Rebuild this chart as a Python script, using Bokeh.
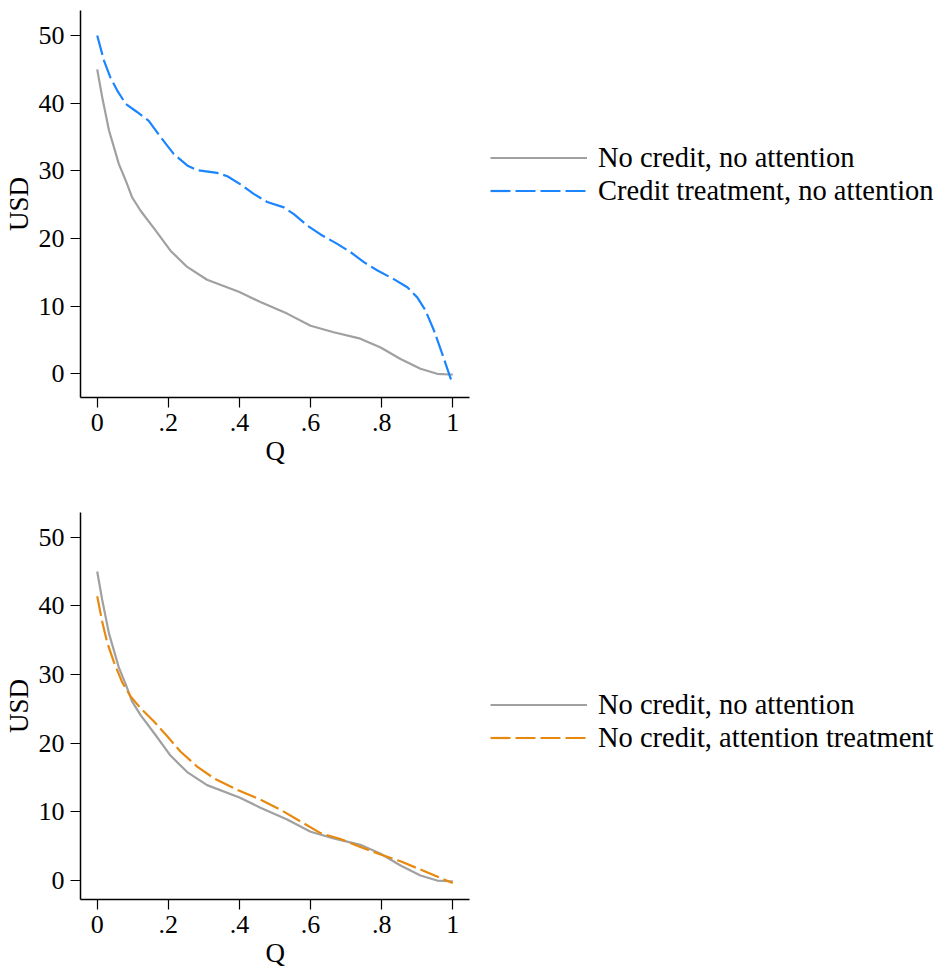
from bokeh.plotting import figure
from bokeh.models import Legend, LegendItem, Range1d, FixedTicker, Title
from bokeh.layouts import column
from bokeh.embed import file_html
from bokeh.resources import INLINE

# ---- data ----
q_base = [0.0, 0.014, 0.033, 0.061, 0.080, 0.098, 0.122, 0.164, 0.206, 0.253, 0.309, 0.40,
          0.459, 0.534, 0.60, 0.665, 0.74, 0.797, 0.853, 0.909, 0.956, 0.989, 1.0]
usd_base = [45.0, 40.9, 36.0, 31.0, 28.6, 26.1, 24.1, 21.2, 18.2, 15.8, 13.9, 12.1,
            10.6, 8.9, 7.1, 6.15, 5.2, 3.9, 2.2, 0.74, 0.0, -0.1, -0.1]

q_credit = [0.0, 0.019, 0.037, 0.056, 0.080, 0.112, 0.145, 0.178, 0.215, 0.253, 0.281, 0.337,
            0.366, 0.403, 0.440, 0.478, 0.525, 0.553, 0.591, 0.628, 0.675, 0.712, 0.750,
            0.787, 0.834, 0.872, 0.900, 0.923, 0.947, 0.970, 0.994, 1.0]
usd_credit = [50.0, 46.3, 43.8, 41.9, 39.9, 38.7, 37.4, 35.0, 32.5, 30.8, 30.1, 29.7,
              29.2, 28.0, 26.6, 25.4, 24.6, 23.6, 21.9, 20.6, 19.2, 18.0, 16.5,
              15.3, 14.0, 12.8, 11.3, 9.4, 6.4, 3.0, -0.7, -1.0]

q_attn = [0.0, 0.014, 0.028, 0.047, 0.070, 0.094, 0.122, 0.159, 0.197, 0.234, 0.281, 0.328,
          0.394, 0.459, 0.516, 0.572, 0.628, 0.684, 0.740, 0.797, 0.853, 0.909, 0.965, 0.994, 1.0]
usd_attn = [41.4, 37.7, 34.7, 31.8, 28.9, 26.8, 25.1, 23.2, 21.0, 18.8, 16.6, 14.9,
            13.2, 11.8, 10.3, 8.6, 6.9, 6.05, 4.9, 3.8, 2.8, 1.6, 0.4, -0.25, -0.35]

x_ticks = [0, 0.2, 0.4, 0.6, 0.8, 1]
x_tick_labels = ["0", ".2", ".4", ".6", ".8", "1"]
y_ticks = [0, 10, 20, 30, 40, 50]

x_title = "Q"
y_title = "USD"
lab_base = "No credit, no attention"
lab_credit = "Credit treatment, no attention"
lab_attn = "No credit, attention treatment"

GRAY = "#a0a0a0"
BLUE = "#1a85ff"
ORANGE = "#e8890f"
FONT = "Liberation Serif"

X0, X1 = -0.047, 1.047
PX_PER_UNIT = 355.6
FRAME_W = 944 - 80


def make_fig(height, border_top, border_bottom, y0, y1):
    p = figure(width=944, height=height, output_backend="svg", toolbar_location=None,
               x_range=Range1d(X0, X0 + FRAME_W / PX_PER_UNIT), y_range=Range1d(y0, y1),
               min_border_left=80, min_border_right=0,
               min_border_top=border_top, min_border_bottom=border_bottom)
    p.outline_line_color = None
    p.xgrid.visible = False
    p.ygrid.visible = False
    p.background_fill_color = "white"
    p.border_fill_color = "white"
    for ax in (p.xaxis[0], p.yaxis[0]):
        ax.axis_line_color = "black"
        ax.axis_line_width = 1.5
        ax.major_tick_line_color = "black"
        ax.major_tick_line_width = 1.2
        ax.major_tick_in = 0
        ax.major_tick_out = 10
        ax.minor_tick_line_color = None
        ax.major_label_text_font = FONT
        ax.major_label_text_font_size = "26px"
        ax.major_label_text_color = "black"
        ax.axis_label_text_font = FONT
        ax.axis_label_text_font_size = "27px"
        ax.axis_label_text_font_style = "normal"
        ax.axis_label_text_color = "black"
    p.xaxis[0].bounds = (X0, X1)
    p.xaxis[0].ticker = FixedTicker(ticks=x_ticks)
    p.xaxis[0].major_label_overrides = {t: l for t, l in zip(x_ticks, x_tick_labels)}
    p.xaxis[0].major_label_standoff = 6
    p.yaxis[0].ticker = FixedTicker(ticks=y_ticks)
    p.yaxis[0].major_label_standoff = 6
    p.yaxis[0].axis_label = y_title
    p.yaxis[0].axis_label_standoff = 2
    # x-axis title centred under the visible axis (the frame extends to the right for the legend)
    t = Title(text=x_title, align="left", offset=185, standoff=0,
              text_font=FONT, text_font_size="27px", text_font_style="normal",
              text_color="black")
    p.add_layout(t, "below")
    return p


def add_legend(p, items, loc):
    leg = Legend(items=items, location=loc, padding=0, margin=0, spacing=0,
                 glyph_width=97, glyph_height=33, label_height=33, label_standoff=11,
                 label_text_font=FONT, label_text_font_size="28.5px", label_text_color="black",
                 border_line_color=None, background_fill_alpha=0)
    p.add_layout(leg, "center")


# ---- top panel ----
p1 = make_fig(483, 10, 86, -3.5, 53.7)
r_base1 = p1.line(q_base, usd_base, line_color=GRAY, line_width=2.2, line_join="round")
r_credit = p1.line(q_credit, usd_credit, line_color=BLUE, line_width=2.2,
                   line_dash="20 5", line_join="round")
add_legend(p1, [LegendItem(label=lab_base, renderers=[r_base1]),
                LegendItem(label=lab_credit, renderers=[r_credit])], (410, 190))

# ---- bottom panel ----
p2 = make_fig(488, 29, 72, -2.76, 53.6)
r_base2 = p2.line(q_base, usd_base, line_color=GRAY, line_width=2.2, line_join="round")
r_attn = p2.line(q_attn, usd_attn, line_color=ORANGE, line_width=2.2,
                 line_dash="20 5", line_join="round")
add_legend(p2, [LegendItem(label=lab_base, renderers=[r_base2]),
                LegendItem(label=lab_attn, renderers=[r_attn])], (410, 145))

layout = column(p1, p2, spacing=0)
open("out.html", "w").write(file_html(layout, INLINE))
